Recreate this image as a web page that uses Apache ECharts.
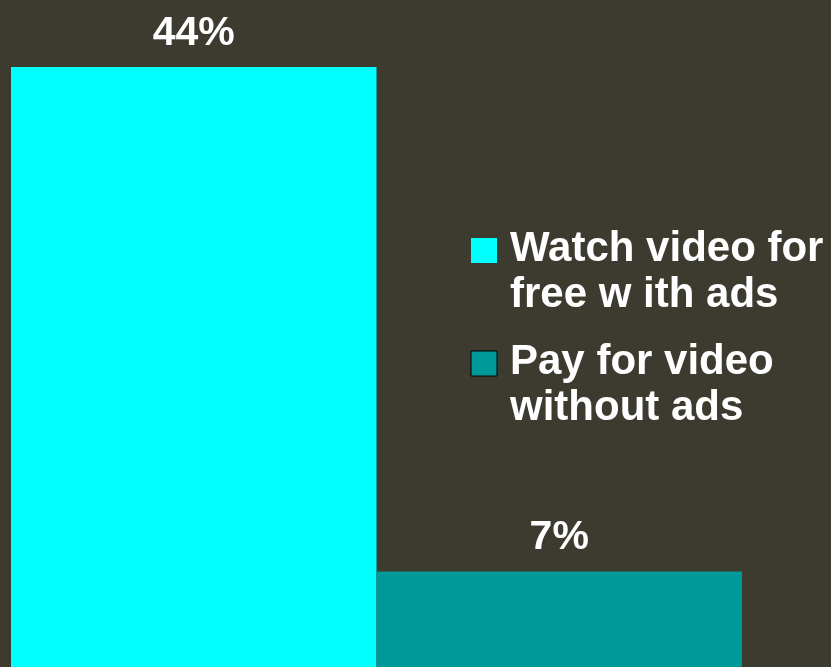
<!DOCTYPE html>
<html>
<head>
<meta charset="utf-8">
<script src="https://cdn.jsdelivr.net/npm/echarts@6/dist/echarts.min.js"></script>
<style>
  html, body { margin: 0; padding: 0; background: #3d3b30; }
  #chart { width: 831px; height: 667px; }
</style>
</head>
<body>
<div id="chart"></div>
<script>
// Survey answer shares (percent of respondents)
const categories = ['Preference'];
const seriesNames = ['Watch video for\nfree w ith ads', 'Pay for video\nwithout ads'];
const seriesValues = [44, 7];
const seriesColors = ['#00ffff', '#009999'];

const FONT = '"Liberation Sans", Arial, sans-serif';

// Legend drawn as graphic items: icon aligned with the first text line
const legendX = 471, legendTop = 238, legendStep = 113;
const legendGraphics = [];
seriesNames.forEach(function (name, i) {
  const y = legendTop + i * legendStep;
  legendGraphics.push({
    type: 'rect',
    shape: { x: legendX, y: y, width: 26, height: 25 },
    style: { fill: seriesColors[i], stroke: i === 1 ? '#000000' : null, lineWidth: 1 }
  });
  legendGraphics.push({
    type: 'text',
    x: 510,
    y: y - 12,
    style: {
      text: name,
      fill: '#ffffff',
      font: 'bold 42px ' + FONT,
      lineHeight: 46,
      verticalAlign: 'top',
      align: 'left'
    }
  });
});

const chart = echarts.init(document.getElementById('chart'), null, { renderer: 'canvas' });
chart.setOption({
  backgroundColor: '#3d3b30',
  animation: false,
  grid: { left: 11, right: 89, top: 67, bottom: 0, containLabel: false },
  xAxis: {
    type: 'category',
    data: categories,
    show: false
  },
  yAxis: {
    type: 'value',
    min: 0,
    max: 44,
    show: false
  },
  graphic: legendGraphics,
  series: seriesNames.map(function (name, i) {
    return {
      name: name,
      type: 'bar',
      data: [seriesValues[i]],
      barGap: '0%',
      barCategoryGap: '0%',
      itemStyle: { color: seriesColors[i] },
      label: {
        show: true,
        position: 'top',
        distance: 13,
        formatter: '{c}%',
        color: '#ffffff',
        fontFamily: FONT,
        fontWeight: 'bold',
        fontSize: 41
      }
    };
  })
});
</script>
</body>
</html>
